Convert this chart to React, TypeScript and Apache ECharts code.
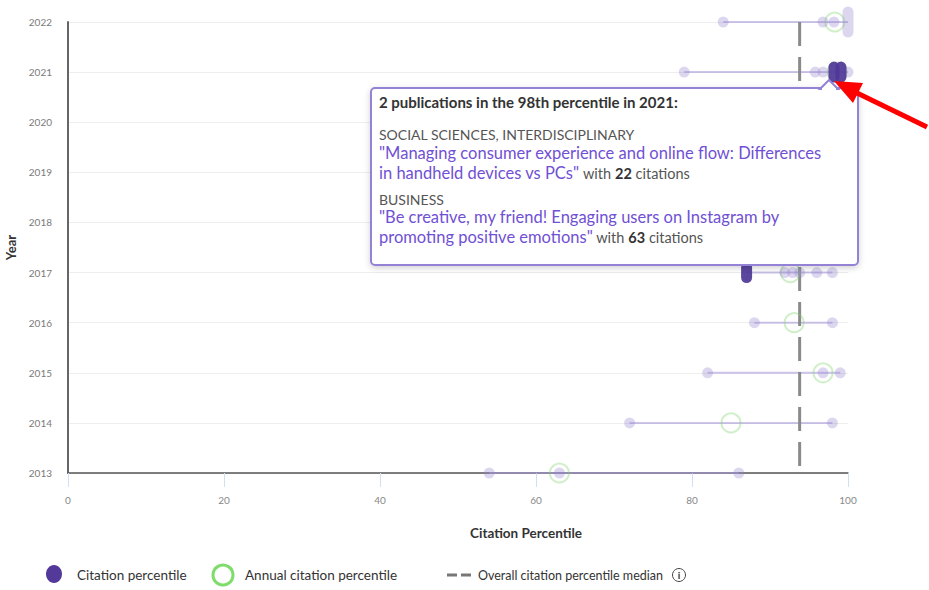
import React, { useEffect, useRef } from "react";
import * as echarts from "echarts";

// ---- data ----
const yearTicks = [2013, 2014, 2015, 2016, 2017, 2018, 2019, 2020, 2021, 2022];
const percentileTicks = [0, 20, 40, 60, 80, 100];

// [percentile, year, number of publications at that percentile]
const citationPoints: [number, number, number][] = [
  [54, 2013, 1], [63, 2013, 1], [86, 2013, 1],
  [72, 2014, 1], [98, 2014, 1],
  [82, 2015, 1], [96.8, 2015, 1], [99, 2015, 1],
  [88, 2016, 1], [98, 2016, 1],
  [91.9, 2017, 1], [92.9, 2017, 1], [93.8, 2017, 1], [96, 2017, 1], [98, 2017, 1],
  [62, 2018, 1], [84, 2018, 1], [92, 2018, 1], [97, 2018, 1],
  [70, 2019, 1], [89, 2019, 1], [97, 2019, 2],
  [76, 2020, 1], [91, 2020, 1], [99, 2020, 1],
  [79, 2021, 1], [95.8, 2021, 1], [96.8, 2021, 1], [100, 2021, 1],
  [84, 2022, 1], [96.8, 2022, 1], [98.2, 2022, 1], [100, 2022, 3],
];

// highlighted publications [percentile, year, count]
const highlightedPoints: [number, number, number][] = [
  [98.2, 2021, 2], [99.1, 2021, 2], [87, 2017, 2],
];

// annual citation percentile per year (same order as yearTicks)
const annualPercentiles = [63, 85, 96.8, 93.1, 92.6, 91, 94, 95, 98.6, 98.3];

const medianPercentile = 93.8;

const FONT = "Lato, 'Noto Sans', sans-serif";

export default function App() {
  const ref = useRef<HTMLDivElement>(null);

  useEffect(() => {
    if (!ref.current) return;
    const chart = echarts.init(ref.current, undefined, { renderer: "svg" });

    const allPts = citationPoints.concat(highlightedPoints);
    const rangeData = yearTicks.map((y) => {
      const vals = allPts.filter((p) => p[1] === y).map((p) => p[0]);
      return [Math.min(...vals), Math.max(...vals), y];
    });

    const capsule = (color: string) => (params: any, api: any) => {
      const c = api.coord([api.value(0), api.value(1)]);
      const n = api.value(2);
      const w = 11;
      const h = 11 + (n - 1) * 10;
      return {
        type: "rect",
        shape: { x: c[0] - w / 2, y: c[1] - h / 2, width: w, height: h, r: w / 2 },
        style: { fill: color },
      };
    };

    const Z = 100;
    const tipRich = {
      p: { font: `16.5px ${FONT}`, fill: "#7050d4" },
      g: { font: `14.5px ${FONT}`, fill: "#555" },
      b: { font: `bold 14.5px ${FONT}`, fill: "#333" },
    };

    const option: any = {
      animation: false,
      textStyle: { fontFamily: FONT },
      grid: { left: 68, right: 81, top: 22, bottom: 117, containLabel: false, outerBoundsMode: "none" },
      xAxis: {
        type: "value",
        min: 0,
        max: 100,
        interval: 20,
        name: "Citation Percentile",
        nameLocation: "middle",
        nameGap: 53,
        nameTextStyle: {
          fontSize: 13.5,
          fontWeight: "bold",
          color: "#333",
          fontFamily: FONT,
          padding: [0, 0, 0, 136],
        },
        axisLine: { show: true, lineStyle: { color: "#555", width: 1.5 } },
        axisTick: { show: true, length: 14, lineStyle: { color: "#d3ddf3", width: 1 } },
        axisLabel: { fontSize: 10, color: "#888", margin: 22, fontFamily: FONT },
        splitLine: { show: false },
      },
      yAxis: {
        type: "value",
        min: 2013,
        max: 2022,
        interval: 1,
        name: "Year",
        nameLocation: "middle",
        nameGap: 51,
        nameTextStyle: { fontSize: 13, fontWeight: "bold", color: "#333", fontFamily: FONT },
        axisLine: { show: true, lineStyle: { color: "#666", width: 2 } },
        axisTick: { show: false },
        axisLabel: {
          fontSize: 10,
          color: "#7a7a7a",
          margin: 16,
          fontFamily: FONT,
          formatter: (v: number) => String(v),
        },
        splitLine: { show: true, lineStyle: { color: "#eeeeee", width: 1 } },
      },
      series: [
        {
          type: "custom",
          name: "range",
          data: rangeData,
          z: 1,
          renderItem: (params: any, api: any) => {
            const a = api.coord([api.value(0), api.value(2)]);
            const b = api.coord([api.value(1), api.value(2)]);
            return {
              type: "line",
              shape: { x1: a[0], y1: a[1], x2: b[0], y2: b[1] },
              style: { stroke: "rgba(165,150,218,0.55)", lineWidth: 2 },
            };
          },
        },
        {
          type: "line",
          name: "median",
          data: [[medianPercentile, 2022], [medianPercentile, 2013]],
          symbol: "none",
          z: 2,
          lineStyle: { color: "#8a8a8a", width: 3, type: [24, 11] },
        },
        {
          type: "scatter",
          name: "Annual citation percentile",
          data: annualPercentiles.map((v, i) => [v, yearTicks[i]]),
          symbol: "circle",
          symbolSize: 19,
          z: 3,
          itemStyle: { color: "rgba(255,255,255,0)", borderColor: "rgba(125,212,105,0.45)", borderWidth: 2 },
        },
        {
          type: "custom",
          name: "Citation percentile",
          data: citationPoints,
          z: 4,
          renderItem: capsule("rgba(150,135,205,0.33)"),
        },
        {
          type: "custom",
          name: "highlighted",
          data: highlightedPoints,
          z: 5,
          renderItem: capsule("rgba(78,55,150,0.92)"),
        },
      ],
      graphic: {
        z: Z,
        elements: [
          // tooltip
          {
            type: "rect",
            z: Z,
            shape: { x: 371, y: 88, width: 487, height: 177, r: 4 },
            style: {
              fill: "#fff",
              stroke: "#9482d6",
              lineWidth: 2,
              shadowBlur: 6,
              shadowColor: "rgba(0,0,0,0.18)",
              shadowOffsetY: 2,
            },
          },
          {
            type: "polygon",
            z: Z + 1,
            shape: { points: [[820, 89], [829, 80], [838, 89]] },
            style: { fill: "#fff", stroke: "#9482d6", lineWidth: 2 },
          },
          {
            type: "line",
            z: Z + 2,
            shape: { x1: 822, y1: 89.5, x2: 836, y2: 89.5 },
            style: { stroke: "#fff", lineWidth: 3 },
          },
          {
            type: "text",
            z: Z + 2,
            x: 379,
            y: 102,
            style: {
              text: "2 publications in the 98th percentile in 2021:",
              font: `bold 15px ${FONT}`,
              fill: "#333",
              verticalAlign: "middle",
            },
          },
          {
            type: "text",
            z: Z + 2,
            x: 379,
            y: 134,
            style: {
              text: "SOCIAL SCIENCES, INTERDISCIPLINARY",
              font: `14px ${FONT}`,
              fill: "#555",
              verticalAlign: "middle",
            },
          },
          {
            type: "text",
            z: Z + 2,
            x: 379,
            y: 153,
            style: {
              text: "\"Managing consumer experience and online flow: Differences",
              font: `16.5px ${FONT}`,
              fill: "#7050d4",
              verticalAlign: "middle",
            },
          },
          {
            type: "text",
            z: Z + 2,
            x: 379,
            y: 173,
            style: {
              text: "{p|in handheld devices vs PCs\"}{g| with }{b|22}{g| citations}",
              verticalAlign: "middle",
              rich: tipRich,
            },
          },
          {
            type: "text",
            z: Z + 2,
            x: 379,
            y: 199,
            style: { text: "BUSINESS", font: `14px ${FONT}`, fill: "#555", verticalAlign: "middle" },
          },
          {
            type: "text",
            z: Z + 2,
            x: 379,
            y: 217,
            style: {
              text: "\"Be creative, my friend! Engaging users on Instagram by",
              font: `16.5px ${FONT}`,
              fill: "#7050d4",
              verticalAlign: "middle",
            },
          },
          {
            type: "text",
            z: Z + 2,
            x: 379,
            y: 237,
            style: {
              text: "{p|promoting positive emotions\"}{g| with }{b|63}{g| citations}",
              verticalAlign: "middle",
              rich: tipRich,
            },
          },
          // red arrow
          {
            type: "line",
            z: Z + 10,
            shape: { x1: 855, y1: 92, x2: 927, y2: 127 },
            style: { stroke: "#ff0000", lineWidth: 5 },
          },
          {
            type: "polygon",
            z: Z + 10,
            shape: { points: [[834, 81], [853, 103], [863, 83]] },
            style: { fill: "#ff0000" },
          },
          // legend
          { type: "ellipse", z: Z, shape: { cx: 54, cy: 574, rx: 8, ry: 9 }, style: { fill: "#52399a" } },
          {
            type: "text",
            z: Z,
            x: 77,
            y: 575,
            style: { text: "Citation percentile", font: `13.5px ${FONT}`, fill: "#333", verticalAlign: "middle" },
          },
          {
            type: "circle",
            z: Z,
            shape: { cx: 223, cy: 575, r: 10 },
            style: { fill: "none", stroke: "#7ddc6a", lineWidth: 3 },
          },
          {
            type: "text",
            z: Z,
            x: 245,
            y: 575,
            style: {
              text: "Annual citation percentile",
              font: `13.5px ${FONT}`,
              fill: "#333",
              verticalAlign: "middle",
            },
          },
          { type: "line", z: Z, shape: { x1: 447, y1: 575, x2: 457, y2: 575 }, style: { stroke: "#777", lineWidth: 3 } },
          { type: "line", z: Z, shape: { x1: 461, y1: 575, x2: 471, y2: 575 }, style: { stroke: "#777", lineWidth: 3 } },
          {
            type: "text",
            z: Z,
            x: 478,
            y: 575,
            style: {
              text: "Overall citation percentile median",
              font: `12.5px ${FONT}`,
              fill: "#333",
              verticalAlign: "middle",
            },
          },
          {
            type: "circle",
            z: Z,
            shape: { cx: 679, cy: 575, r: 6.5 },
            style: { fill: "none", stroke: "#444", lineWidth: 1 },
          },
          {
            type: "text",
            z: Z + 1,
            x: 679,
            y: 575,
            style: {
              text: "i",
              font: `bold 10px ${FONT}`,
              fill: "#333",
              align: "center",
              verticalAlign: "middle",
            },
          },
        ],
      },
    };

    chart.setOption(option);
    return () => chart.dispose();
  }, []);

  return (
    <div
      ref={ref}
      style={{ position: "fixed", left: 0, top: 0, width: 929, height: 590, background: "#fff" }}
    />
  );
}
